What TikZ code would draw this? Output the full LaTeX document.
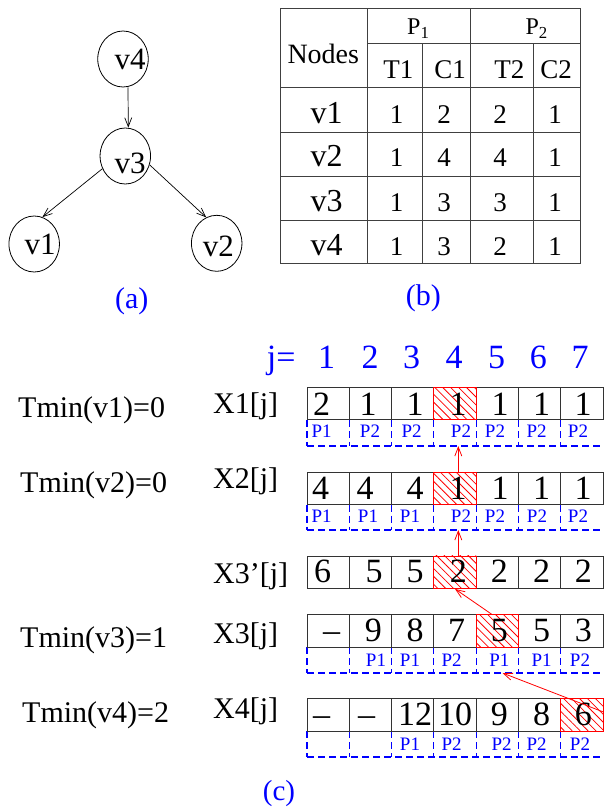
\documentclass[tikz,border=0pt]{standalone}
\usepackage{fontspec}
\setmainfont{Liberation Serif}
\usetikzlibrary{arrows.meta,shapes.geometric,patterns.meta}
\definecolor{pblue}{RGB}{0,0,255}
\definecolor{pred}{RGB}{255,0,0}
\newcommand{\fsz}[1]{\fontsize{#1}{#1}\selectfont}
\begin{document}
\begin{tikzpicture}[x=1pt,y=-1pt,
  vcirc/.style={draw, ellipse, minimum width=50.5pt, minimum height=56pt, inner sep=0pt, line width=0.8pt},
  vtxt/.style={inner sep=0pt, anchor=base, font=\fsz{31}},
  garr/.style={line width=0.7pt, -{Straight Barb[length=9pt,width=7pt]}},
  tline/.style={draw=black!75, line width=0.9pt},
  ttxt/.style={inner sep=0pt, anchor=base, font=\fsz{27}},
  tvtxt/.style={inner sep=0pt, anchor=base, font=\fsz{32}},
  captxt/.style={inner sep=0pt, anchor=base, text=pblue, font=\fsz{30}},
  lefttxt/.style={inner sep=0pt, anchor=base west, font=\fsz{30}},
  cellbox/.style={draw=black!80, line width=0.9pt, minimum width=42.28pt, minimum height=32.5pt, inner sep=0pt},
  hatchbox/.style={cellbox, draw=pred, pattern={Lines[angle=-45,distance=5.6pt,line width=0.8pt]}, pattern color=pred},
  cval/.style={inner sep=0pt, anchor=base, font=\fsz{34}},
  jtxt/.style={inner sep=0pt, anchor=base, text=pblue, font=\fsz{34}},
  plab/.style={inner sep=0pt, anchor=base, text=pblue, font=\fsz{19}},
  dline/.style={draw=pblue, line width=1.1pt, dash pattern=on 7pt off 4pt},
  rarr/.style={draw=pred, line width=0.8pt, -{Straight Barb[length=9pt,width=7pt]}},
]
\useasboundingbox (0,0) rectangle (603,808);

% ---------------- (a) graph ----------------
\node[vcirc] (v4) at (123,59) {};
\node[vcirc] (v3) at (125.3,156) {};
\node[vcirc] (v1) at (34.2,244) {};
\node[vcirc] (v2) at (216.7,243.3) {};
\node[vtxt] (t4) at (130,70) {v4};
\node[vtxt] (t3) at (130,173) {v3};
\node[vtxt] (t1) at (40,254) {v1};
\node[vtxt] (t2) at (218.3,256) {v2};
\draw[garr] ([xshift=5pt]v4.south) -- ([xshift=3pt]v3.north);
\draw[garr] (v3.209) -- (v1.73);
\draw[garr] (v3.340) -- (v2.112);
\node[captxt] (capa) at (131.7,308) {(a)};

% ---------------- (b) table ----------------
\draw[tline] (280.7,8.3) rectangle (580.7,263.3);
\draw[tline] (367.7,8.3) -- (367.7,263.3);
\draw[tline] (470,8.3) -- (470,263.3);
\draw[tline] (422.7,43.3) -- (422.7,263.3);
\draw[tline] (533.3,43.3) -- (533.3,263.3);
\draw[tline] (367.7,43.3) -- (580.7,43.3);
\foreach \yy in {87.3,132.3,176,220} \draw[tline] (280.7,\yy) -- (580.7,\yy);
\node[ttxt, font=\fsz{28}] (hn) at (323.3,63.3) {Nodes};
\node[ttxt, font=\fsz{24}] (hp1) at (418.3,35) {P\textsubscript{1}};
\node[ttxt, font=\fsz{24}] (hp2) at (536.7,35) {P\textsubscript{2}};
\node[ttxt] (ht1) at (398.3,78.3) {T1};
\node[ttxt] (hc1) at (450,78.3) {C1};
\node[ttxt] (ht2) at (509.3,78.3) {T2};
\node[ttxt] (hc2) at (556,78.3) {C2};
\foreach \yy/\nm/\a/\b/\c/\d [count=\i] in {123.3/v1/1/2/2/1, 166.7/v2/1/4/4/1, 211.7/v3/1/3/3/1, 255/v4/1/3/2/1}{
  \node[tvtxt] (rn\i) at (326.7,\yy) {\nm};
  \node[ttxt] (ra\i) at (396.7,\yy) {\a};
  \node[ttxt] (rb\i) at (444,\yy) {\b};
  \node[ttxt] (rc\i) at (500,\yy) {\c};
  \node[ttxt] (rd\i) at (555,\yy) {\d};
}
\node[captxt] (capb) at (423.3,305) {(b)};

% ---------------- (c) arrays ----------------
\node[jtxt, anchor=base west] (jeq) at (266.7,368) {j=};
\foreach \xx [count=\i] in {326.7,370,411.7,454,496.7,538.3,580}
  \node[jtxt] (jn\i) at (\xx,368) {\i};

\node[lefttxt] (tm1) at (18,417) {Tmin(v1)=0};
\node[lefttxt] (tm2) at (20,492) {Tmin(v2)=0};
\node[lefttxt] (tm3) at (20,647) {Tmin(v3)=1};
\node[lefttxt] (tm4) at (22,722) {Tmin(v4)=2};
\node[lefttxt] (xl1) at (213,413) {X1[j]};
\node[lefttxt] (xl2) at (213,488) {X2[j]};
\node[lefttxt] (xl3p) at (213,583) {X3’[j]};
\node[lefttxt] (xl3) at (213,643) {X3[j]};
\node[lefttxt] (xl4) at (213,718) {X4[j]};

% dashed processor rows
\foreach \yt/\yb in {419.75/446, 504.55/530, 647.25/673, 731.25/757}{
  \foreach \k in {0,...,6} \draw[dline] ({307+42.28*\k},\yt) -- ({307+42.28*\k},\yb);
  \draw[dline] (307,\yb) -- (603,\yb);
}

% cells
\foreach \r/\yy in {1/403.5, 2/488.3, 3/572.2, 4/631, 5/715}
  \foreach \k in {1,...,7}
    \node[cellbox] (c\r-\k) at ({307+42.28*(\k-0.5)},\yy) {};

\node[hatchbox] (h1) at (c1-4) {};
\node[hatchbox] (h2) at (c2-4) {};
\node[hatchbox] (h3) at (c3-4) {};
\node[hatchbox] (h4) at (c4-5) {};
\node[hatchbox] (h5) at (c5-7) {};

% values
\foreach \xx/\t [count=\i] in {321.7/2, 368/1, 415/1, 458/1, 500/1, 541.7/1, 583/1}
  \node[cval] (va\i) at (\xx,415) {\t};
\foreach \xx/\t [count=\i] in {320.7/4, 365/4, 415/4, 458/1, 500/1, 541.7/1, 583/1}
  \node[cval] (vb\i) at (\xx,499) {\t};
\foreach \xx/\t [count=\i] in {322.7/6, 374/5, 415/5, 458.3/2, 499.3/2, 541.7/2, 583.3/2}
  \node[cval] (vc\i) at (\xx,582.5) {\t};
\foreach \xx/\t [count=\i] in {331.7/\textendash, 373.3/9, 415/8, 456.7/7, 499.3/5, 541.7/5, 583.3/3}
  \node[cval] (vd\i) at (\xx,641.5) {\t};
\foreach \xx/\t [count=\i] in {321.7/\textendash, 366.7/\textendash, 415/12, 455/10, 499.3/9, 541.7/8, 583.3/6}
  \node[cval] (ve\i) at (\xx,725.5) {\t};

% processor labels
\foreach \xx/\t [count=\i] in {321.7/P1, 370/P2, 411.7/P2, 461/P2, 495/P2, 536.7/P2, 578/P2}
  \node[plab] (pa\i) at (\xx,437) {\t};
\foreach \xx/\t [count=\i] in {321.7/P1, 368/P1, 410/P1, 461/P2, 495/P2, 537/P2, 578/P2}
  \node[plab] (pb\i) at (\xx,522) {\t};
\foreach \xx/\t [count=\i] in {376/P1, 410/P1, 451.7/P2, 499.3/P1, 541.7/P1, 580/P2}
  \node[plab] (pd\i) at (\xx,666.5) {\t};
\foreach \xx/\t [count=\i] in {410/P1, 451.7/P2, 501.7/P2, 536.7/P2, 580/P2}
  \node[plab] (pe\i) at (\xx,750) {\t};

% red arrows
\coordinate (a1) at (458.3,446);
\coordinate (a2) at (458.3,530);
\coordinate (a3) at (502.5,673);
\draw[rarr] (h2.north -| a1) -- (a1);
\draw[rarr] (h3.north -| a2) -- (a2);
\draw[rarr] ([xshift=-5.5pt]h4.north) -- (h3.south);
\draw[rarr] ([yshift=3pt]h5.east) -- (a3);

\node[captxt, font=\fsz{29}] (capc) at (279,800.5) {(c)};
\end{tikzpicture}
\end{document}
